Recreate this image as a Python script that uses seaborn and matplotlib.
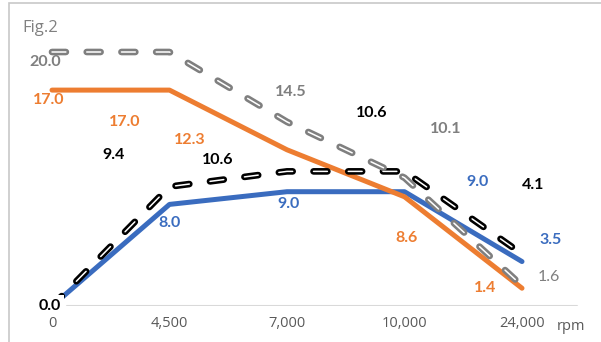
import matplotlib
matplotlib.use("Agg")
import matplotlib.pyplot as plt
import matplotlib.patheffects as pe
import seaborn as sns
import pandas as pd

# data
categories = ["0", "4,500", "7,000", "10,000", "24,000"]
gray_vals = [20.0, 20.0, 14.5, 10.1, 1.6]
orange_vals = [17.0, 17.0, 12.3, 8.6, 1.4]
black_vals = [0.0, 9.4, 10.6, 10.6, 4.1]
blue_vals = [0.0, 8.0, 9.0, 9.0, 3.5]

# data labels as they sit in the picture: text, colour, (x index, y value), bold
labels = [
    ("20.0", "gray", (-0.06, 19.2), True),
    ("17.0", "orange", (-0.03, 16.2), True),
    ("17.0", "orange", (0.62, 14.5), True),
    ("9.4", "black", (0.52, 11.9), True),
    ("12.3", "orange", (1.17, 13.1), True),
    ("10.6", "black", (1.41, 11.5), True),
    ("14.5", "gray", (2.03, 16.85), True),
    ("10.6", "black", (2.72, 15.2), True),
    ("10.1", "gray", (3.35, 13.9), True),
    ("9.0", "blue", (3.62, 9.8), True),
    ("4.1", "black", (4.09, 9.5), True),
    ("8.0", "blue", (1.0, 6.5), True),
    ("9.0", "blue", (2.01, 8.0), True),
    ("8.6", "orange", (3.02, 5.35), True),
    ("3.5", "blue", (4.24, 5.2), True),
    ("1.6", "gray", (4.23, 2.3), False),
    ("1.4", "orange", (3.69, 1.4), True),
    ("0.0", "black", (-0.02, 0.0), True),
]

colors = {"gray": "#7f7f7f", "orange": "#ed7d31", "blue": "#3a6cbf", "black": "#000000"}


def main():
    sns.set_theme(style="white")
    plt.rcParams["font.family"] = ["Lato", "DejaVu Sans"]
    plt.rcParams["lines.scale_dashes"] = False

    fig = plt.figure(figsize=(6.01, 3.42), dpi=100)
    W, H = 601, 342
    # axes placed so that category 0 -> px 52, category 4 -> px 522, y 0 -> px 306
    left_px, right_px, top_px, bot_px = 17, 585, 20, 306
    ax = fig.add_axes([left_px / W, 1 - bot_px / H, (right_px - left_px) / W, (bot_px - top_px) / H])
    ax.set_xlim((left_px - 52) / 117.5, (right_px - 52) / 117.5)
    ax.set_ylim(0, (bot_px - top_px) / 12.7)

    x = list(range(len(categories)))
    df = pd.DataFrame({"x": x, "gray": gray_vals, "orange": orange_vals,
                       "black": black_vals, "blue": blue_vals})

    sns.lineplot(data=df, x="x", y="blue", color=colors["blue"], lw=3.6, ax=ax)
    sns.lineplot(data=df, x="x", y="orange", color=colors["orange"], lw=3.6, ax=ax)
    for key in ["black", "gray"]:
        sns.lineplot(data=df, x="x", y=key, color="white", lw=1.1, ax=ax)
        line = ax.lines[-1]
        line.set_dashes((10, 15))
        line.set_dash_capstyle("round")
        line.set_path_effects([pe.Stroke(linewidth=4.8, foreground=colors[key]), pe.Normal()])

    for spine in ax.spines.values():
        spine.set_visible(False)
    ax.axhline(0, xmin=(67 - left_px) / (right_px - left_px),
               xmax=(577 - left_px) / (right_px - left_px), color="#d9d9d9", lw=1.5)

    ax.set_xticks(x)
    ax.set_xticklabels(categories, fontsize=10.5, color="#595959", family=["Open Sans", "DejaVu Sans"])
    ax.tick_params(axis="x", length=0, pad=7)
    ax.set_yticks([])
    ax.set_xlabel("")
    ax.set_ylabel("")

    for text, c, (lx, ly), bold in labels:
        t = ax.text(lx, ly, text, color=colors[c], fontsize=11.5,
                    fontweight="bold" if bold else "normal",
                    ha="center", va="center", clip_on=False, zorder=5)
        if ly == 0.0:
            # the zero label sits on top of the line starts, as in the original
            t.set_bbox(dict(facecolor="white", edgecolor="none", pad=2.5))

    fig.text(557 / W, 1 - 326 / H, "rpm", fontsize=10.5, color="#595959",
             family=["Open Sans", "DejaVu Sans"], ha="left", va="center")
    fig.text(22 / W, 1 - 28 / H, "Fig.2", fontsize=12, color="#808080",
             family=["Open Sans", "DejaVu Sans"], ha="left", va="center")

    frame = plt.Rectangle((9 / W, -0.1), 1.2, 1 - 3 / H + 0.1, transform=fig.transFigure,
                          fill=False, edgecolor="#c8c8c8", lw=1.2)
    fig.patches.append(frame)

    fig.savefig("out.png", dpi=100)
    plt.close(fig)


if __name__ == "__main__":
    main()
